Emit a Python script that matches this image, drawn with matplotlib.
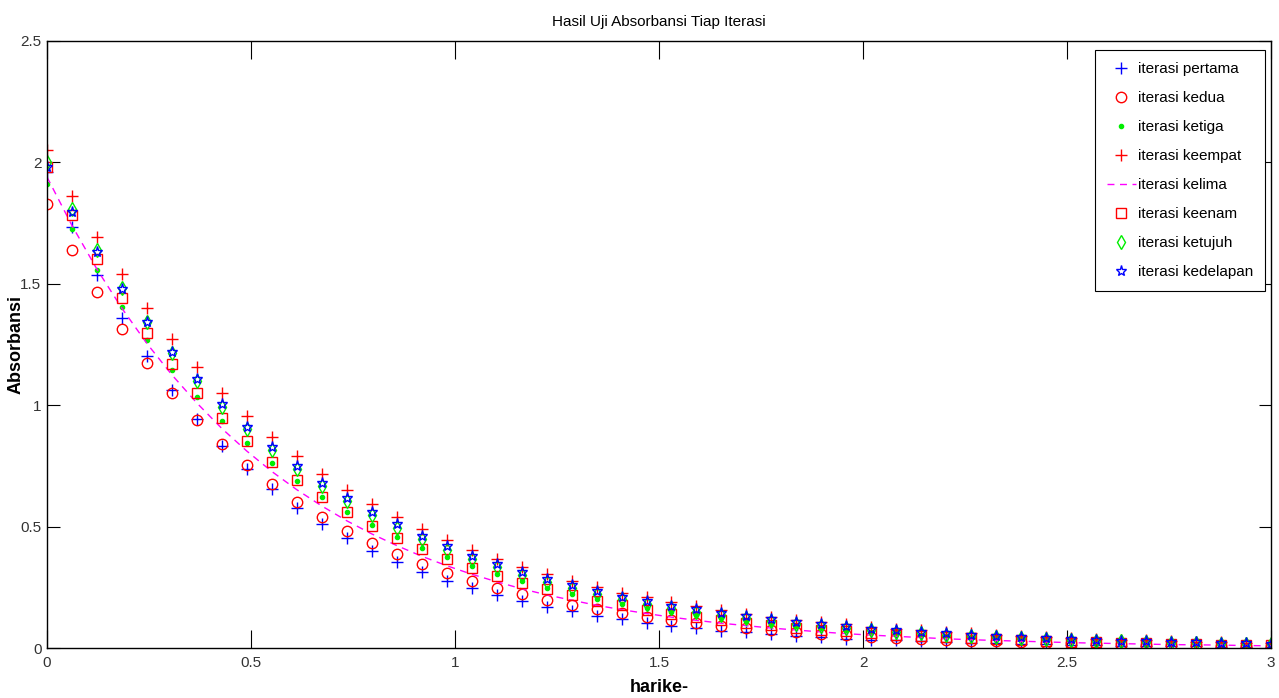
import matplotlib
matplotlib.use("Agg")
import matplotlib.pyplot as plt
import numpy as np

x_start, x_end, n_points = 0.0, 3.0, 50

iterasi_pertama = [1.960, 1.735, 1.535, 1.359, 1.202, 1.064, 0.942, 0.833, 0.738, 0.653,
                   0.578, 0.511, 0.452, 0.400, 0.354, 0.314, 0.278, 0.246, 0.217, 0.192,
                   0.170, 0.151, 0.133, 0.118, 0.104, 0.092, 0.082, 0.072, 0.064, 0.057,
                   0.050, 0.044, 0.039, 0.035, 0.031, 0.027, 0.024, 0.021, 0.019, 0.017,
                   0.015, 0.013, 0.012, 0.010, 0.009, 0.008, 0.007, 0.006, 0.006, 0.005]
iterasi_kedua = [1.830, 1.638, 1.466, 1.312, 1.174, 1.051, 0.941, 0.842, 0.753, 0.674,
                 0.603, 0.540, 0.483, 0.433, 0.387, 0.347, 0.310, 0.278, 0.248, 0.222,
                 0.199, 0.178, 0.159, 0.143, 0.128, 0.114, 0.102, 0.092, 0.082, 0.073,
                 0.066, 0.059, 0.053, 0.047, 0.042, 0.038, 0.034, 0.030, 0.027, 0.024,
                 0.022, 0.019, 0.017, 0.016, 0.014, 0.012, 0.011, 0.010, 0.009, 0.008]
iterasi_ketiga = [1.910, 1.725, 1.557, 1.406, 1.270, 1.147, 1.035, 0.935, 0.844, 0.762,
                  0.688, 0.622, 0.561, 0.507, 0.458, 0.413, 0.373, 0.337, 0.304, 0.275,
                  0.248, 0.224, 0.202, 0.183, 0.165, 0.149, 0.135, 0.122, 0.110, 0.099,
                  0.089, 0.081, 0.073, 0.066, 0.060, 0.054, 0.049, 0.044, 0.040, 0.036,
                  0.032, 0.029, 0.026, 0.024, 0.021, 0.019, 0.018, 0.016, 0.014, 0.013]
iterasi_keempat = [2.050, 1.863, 1.694, 1.540, 1.400, 1.272, 1.157, 1.051, 0.956, 0.869,
                   0.790, 0.718, 0.652, 0.593, 0.539, 0.490, 0.445, 0.405, 0.368, 0.335,
                   0.304, 0.277, 0.251, 0.228, 0.208, 0.189, 0.172, 0.156, 0.142, 0.129,
                   0.117, 0.107, 0.097, 0.088, 0.080, 0.073, 0.066, 0.060, 0.055, 0.050,
                   0.045, 0.041, 0.037, 0.034, 0.031, 0.028, 0.025, 0.023, 0.021, 0.019]
iterasi_kelima = [1.940, 1.740, 1.560, 1.399, 1.254, 1.125, 1.009, 0.904, 0.811, 0.727,
                  0.652, 0.585, 0.524, 0.470, 0.422, 0.378, 0.339, 0.304, 0.273, 0.244,
                  0.219, 0.197, 0.176, 0.158, 0.142, 0.127, 0.114, 0.102, 0.092, 0.082,
                  0.074, 0.066, 0.059, 0.053, 0.048, 0.043, 0.038, 0.034, 0.031, 0.028,
                  0.025, 0.022, 0.020, 0.018, 0.016, 0.014, 0.013, 0.012, 0.010, 0.009]
iterasi_keenam = [1.980, 1.782, 1.604, 1.443, 1.299, 1.169, 1.052, 0.947, 0.852, 0.767,
                  0.690, 0.621, 0.559, 0.503, 0.453, 0.408, 0.367, 0.330, 0.297, 0.267,
                  0.241, 0.217, 0.195, 0.176, 0.158, 0.142, 0.128, 0.115, 0.104, 0.093,
                  0.084, 0.076, 0.068, 0.061, 0.055, 0.050, 0.045, 0.040, 0.036, 0.033,
                  0.029, 0.026, 0.024, 0.021, 0.019, 0.017, 0.016, 0.014, 0.013, 0.011]
iterasi_ketujuh = [2.000, 1.810, 1.638, 1.482, 1.342, 1.214, 1.099, 0.994, 0.900, 0.814,
                   0.737, 0.667, 0.604, 0.546, 0.494, 0.447, 0.405, 0.366, 0.332, 0.300,
                   0.272, 0.246, 0.222, 0.201, 0.182, 0.165, 0.149, 0.135, 0.122, 0.111,
                   0.100, 0.091, 0.082, 0.074, 0.067, 0.061, 0.055, 0.050, 0.045, 0.041,
                   0.037, 0.033, 0.030, 0.027, 0.025, 0.022, 0.020, 0.018, 0.017, 0.015]
iterasi_kedelapan = [1.980, 1.797, 1.631, 1.480, 1.343, 1.219, 1.106, 1.004, 0.911, 0.827,
                     0.750, 0.681, 0.618, 0.561, 0.509, 0.462, 0.419, 0.380, 0.345, 0.313,
                     0.284, 0.258, 0.234, 0.212, 0.193, 0.175, 0.159, 0.144, 0.131, 0.119,
                     0.108, 0.098, 0.089, 0.080, 0.073, 0.066, 0.060, 0.055, 0.050, 0.045,
                     0.041, 0.037, 0.034, 0.030, 0.028, 0.025, 0.023, 0.021, 0.019, 0.017]

labels = ["iterasi pertama", "iterasi kedua", "iterasi ketiga", "iterasi keempat",
          "iterasi kelima", "iterasi keenam", "iterasi ketujuh", "iterasi kedelapan"]
title = "Hasil Uji Absorbansi Tiap Iterasi"
xlabel = "harike-"
ylabel = "Absorbansi"
xticks = [0, 0.5, 1, 1.5, 2, 2.5, 3]
xticklabels = ["0", "0.5", "1", "1.5", "2", "2.5", "3"]
yticks = [0, 0.5, 1, 1.5, 2, 2.5]
yticklabels = ["0", "0.5", "1", "1.5", "2", "2.5"]

x = np.linspace(x_start, x_end, n_points)

plt.rcParams["font.family"] = ["Liberation Sans Narrow", "Liberation Sans", "DejaVu Sans"]

W, H = 1279, 698
fig = plt.figure(figsize=(W / 100, H / 100), dpi=100)
ax = fig.add_axes([47 / W, 1 - 648 / H, (1271 - 47) / W, (648 - 41) / H])

ax.plot(x, iterasi_pertama, linestyle="none", marker="+", color="#0000ff", ms=8, mew=1, label=labels[0])
ax.plot(x, iterasi_kedua, linestyle="none", marker="o", color="#ff0000", mfc="none", ms=7.5, mew=1, label=labels[1])
ax.plot(x, iterasi_ketiga, linestyle="none", marker=".", color="#00ee00", ms=6, label=labels[2])
ax.plot(x, iterasi_keempat, linestyle="none", marker="+", color="#ff0000", ms=8, mew=1, label=labels[3])
ax.plot(x, iterasi_kelima, linestyle=(0, (5, 4)), color="#ff00ff", lw=1, label=labels[4])
ax.plot(x, iterasi_keenam, linestyle="none", marker="s", color="#ff0000", mfc="none", ms=7.5, mew=1, label=labels[5])
ax.plot(x, iterasi_ketujuh, linestyle="none", marker="d", color="#00ee00", mfc="none", ms=7.5, mew=1, label=labels[6])
ax.plot(x, iterasi_kedelapan, linestyle="none", marker="*", color="#0000ff", mfc="none", ms=8, mew=1, label=labels[7])

ax.set_xlim(0, 3)
ax.set_ylim(0, 2.5)
ax.set_xticks(xticks)
ax.set_xticklabels(xticklabels)
ax.set_yticks(yticks)
ax.set_yticklabels(yticklabels)
ax.tick_params(axis="x", direction="in", length=13, width=0.8, top=True, labelsize=11,
               labelcolor="#333333", pad=6)
ax.tick_params(axis="y", direction="in", length=9, width=0.8, right=True, labelsize=11,
               labelcolor="#333333", pad=4)
for s in ax.spines.values():
    s.set_linewidth(1.0)
    s.set_color("black")

ax.set_title(title, fontsize=11, pad=11)
ax.set_xlabel(xlabel, fontsize=13, fontweight="bold", family=["Liberation Sans", "DejaVu Sans"])
ax.xaxis.set_label_coords(0.5, -(688 - 648) / (648 - 41))
ax.xaxis.label.set_va("center")
ax.set_ylabel(ylabel, fontsize=13, fontweight="bold", family=["Liberation Sans", "DejaVu Sans"])
ax.yaxis.set_label_coords(-(47 - 16) / (1271 - 47), 0.5)
ax.yaxis.label.set_va("center")

leg = ax.legend(loc="upper right", bbox_to_anchor=(1265 / W, 1 - 50 / H),
                bbox_transform=fig.transFigure, fontsize=11, frameon=True, fancybox=False,
                edgecolor="black", framealpha=1, borderpad=0.8, labelspacing=0.98,
                handlelength=1.9, handletextpad=0.1, borderaxespad=0.0)
leg.get_frame().set_linewidth(0.8)

fig.savefig("out.png", dpi=100)
